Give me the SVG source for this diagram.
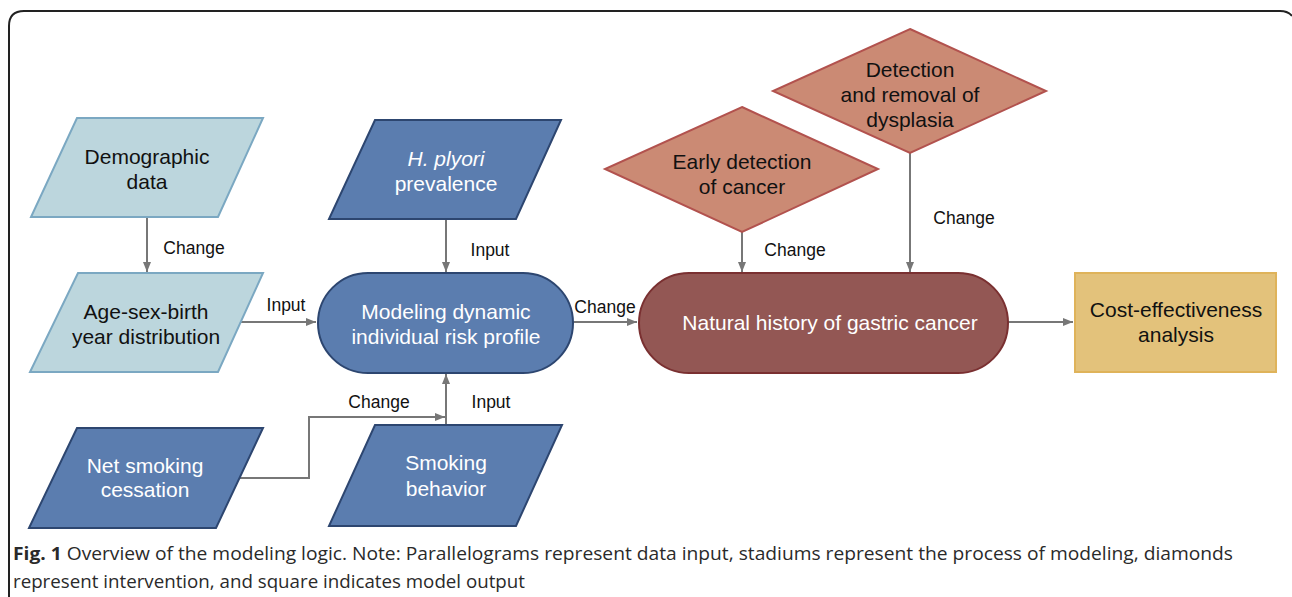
<svg xmlns="http://www.w3.org/2000/svg" width="1292" height="597" viewBox="0 0 1292 597">
<style>
.lt{fill:#bcd6dd;stroke:#7ba8c2;stroke-width:2}
.dk{fill:#5b7daf;stroke:#2d4670;stroke-width:2}
.dm{fill:#cb8a74;stroke:#b2524e;stroke-width:2}
.nh{fill:#935754;stroke:#7a3031;stroke-width:2}
.co{fill:#e3c27b;stroke:#dfb35a;stroke-width:2}
.t{font-family:"Liberation Sans",Arial,sans-serif;font-size:21px;text-anchor:middle}
.b{fill:#111}
.w{fill:#fff}
.lb{font-family:"Liberation Sans",Arial,sans-serif;font-size:17.5px;fill:#111;text-anchor:middle}
.ln{fill:none;stroke:#777;stroke-width:2}
.cap{font-family:"Open Sans","Liberation Sans",sans-serif;font-size:18.5px;fill:#2a2a2a}
</style>
<defs>
<marker id="ah" markerWidth="10" markerHeight="8" refX="10" refY="4" orient="auto" markerUnits="userSpaceOnUse">
<path d="M0,0 L10,4 L0,8 Z" fill="#777"/>
</marker>
</defs>
<rect width="1292" height="597" fill="#fff"/>
<path d="M9,597 V26 Q9,11 24,11 H1280 Q1288,11 1292,16" fill="none" stroke="#222" stroke-width="2"/>

<g id="connectors">
<path class="ln" d="M147,217 V272" marker-end="url(#ah)"/>
<path class="ln" d="M446,219 V272" marker-end="url(#ah)"/>
<path class="ln" d="M240,322 H316" marker-end="url(#ah)"/>
<path class="ln" d="M573,322 H637" marker-end="url(#ah)"/>
<path class="ln" d="M446,425 V374" marker-end="url(#ah)"/>
<path class="ln" d="M240,478 H309 V417 H445" marker-end="url(#ah)"/>
<path class="ln" d="M742,232 V272" marker-end="url(#ah)"/>
<path class="ln" d="M910,153 V272" marker-end="url(#ah)"/>
<path class="ln" d="M1008,322 H1073" marker-end="url(#ah)"/>
<text class="lb" x="194" y="254">Change</text>
<text class="lb" x="490" y="256">Input</text>
<text class="lb" x="286" y="311">Input</text>
<text class="lb" x="605" y="313">Change</text>
<text class="lb" x="379" y="408">Change</text>
<text class="lb" x="491" y="408">Input</text>
<text class="lb" x="795" y="256">Change</text>
<text class="lb" x="964" y="224">Change</text>
</g>

<g id="demographic">
<polygon class="lt" points="77,118 263,118 218,217 31,217"/>
<text class="t b" x="147" y="164">Demographic</text>
<text class="t b" x="147" y="189">data</text>
</g>
<g id="agesex">
<polygon class="lt" points="78,273 263,273 218,372 30,372"/>
<text class="t b" x="146" y="319">Age-sex-birth</text>
<text class="t b" x="146" y="344">year distribution</text>
</g>
<g id="hpylori">
<polygon class="dk" points="375,120 561,120 516,219 329,219"/>
<text class="t w" x="446" y="166"><tspan font-style="italic">H. plyori</tspan></text>
<text class="t w" x="446" y="191">prevalence</text>
</g>
<g id="modeling">
<rect class="dk" x="318" y="273" width="255" height="100" rx="50"/>
<text class="t w" x="446" y="319">Modeling dynamic</text>
<text class="t w" x="446" y="344">individual risk profile</text>
</g>
<g id="netsmoking">
<polygon class="dk" points="77,428 263,428 216,528 29,528"/>
<text class="t w" x="145" y="473">Net smoking</text>
<text class="t w" x="145" y="497">cessation</text>
</g>
<g id="smoking">
<polygon class="dk" points="375,425 562,425 516,526 329,526"/>
<text class="t w" x="446" y="470">Smoking</text>
<text class="t w" x="446" y="496">behavior</text>
</g>
<g id="early">
<polygon class="dm" points="742,107 878,169 742,232 605,169"/>
<text class="t b" x="742" y="169">Early detection</text>
<text class="t b" x="742" y="194">of cancer</text>
</g>
<g id="dysplasia">
<polygon class="dm" points="910,29 1046,91 910,153 773,91"/>
<text class="t b" x="910" y="77">Detection</text>
<text class="t b" x="910" y="102">and removal of</text>
<text class="t b" x="910" y="127">dysplasia</text>
</g>
<g id="natural">
<rect class="nh" x="639" y="273" width="369" height="100" rx="50"/>
<text class="t w" x="830" y="330">Natural history of gastric cancer</text>
</g>
<g id="cost">
<rect class="co" x="1075" y="273" width="201" height="99"/>
<text class="t b" x="1176" y="317">Cost-effectiveness</text>
<text class="t b" x="1176" y="342">analysis</text>
</g>

<text class="cap" x="13" y="560" textLength="1220" lengthAdjust="spacingAndGlyphs"><tspan font-weight="bold">Fig. 1</tspan> Overview of the modeling logic. Note: Parallelograms represent data input, stadiums represent the process of modeling, diamonds</text>
<text class="cap" x="13" y="588" textLength="512" lengthAdjust="spacingAndGlyphs">represent intervention, and square indicates model output</text>
</svg>
